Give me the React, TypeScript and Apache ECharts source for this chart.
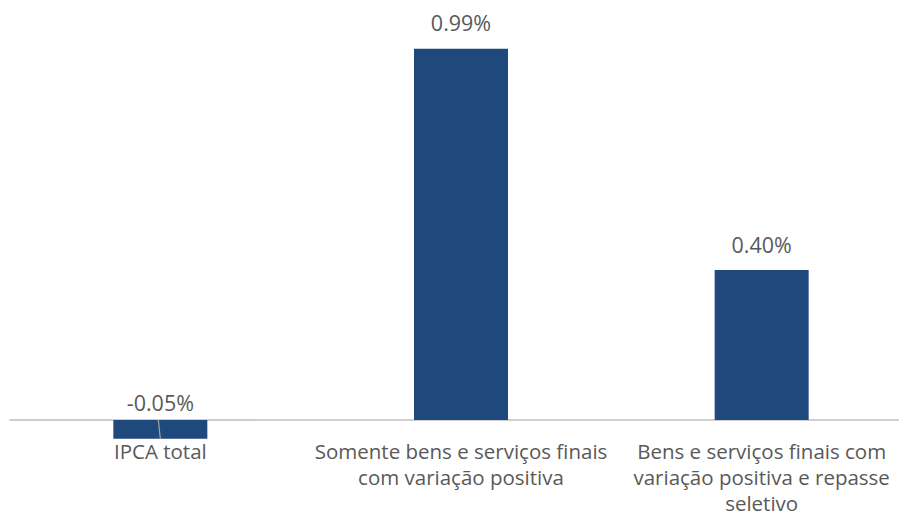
import React, { useEffect, useRef } from "react";
import * as echarts from "echarts";

const categories = [
  "IPCA total",
  "Somente bens e serviços finais\ncom variação positiva",
  "Bens e serviços finais com\nvariação positiva e repasse\nseletivo",
];
const values = [-0.05, 0.99, 0.4];

export default function App() {
  const ref = useRef<HTMLDivElement>(null);
  useEffect(() => {
    if (!ref.current) return;
    const chart = echarts.init(ref.current, undefined, { renderer: "svg" });
    const font = "'Open Sans', 'Noto Sans', sans-serif";
    chart.setOption({
      animation: false,
      grid: { left: 10, top: 45, width: 902, height: 375, containLabel: false, outerBoundsMode: "none" },
      xAxis: {
        type: "category",
        data: categories,
        axisTick: { show: false },
        axisLine: { show: true, onZero: true, lineStyle: { color: "#bfbfbf", width: 1.5 } },
        axisLabel: {
          color: "#595959",
          fontFamily: font,
          fontSize: 20.5,
          lineHeight: 26,
          margin: 18,
          interval: 0,
        },
      },
      yAxis: {
        type: "value",
        min: 0,
        max: 1.0,
        show: false,
        splitLine: { show: false },
      },
      series: [
        {
          type: "bar",
          clip: false,
          data: values.map((v) => ({
            value: v,
            label: { distance: v < 0 ? 7 : 15 },
          })),
          barWidth: 94,
          itemStyle: { color: "#1f497d" },
          label: {
            show: true,
            position: "top",
            color: "#595959",
            fontFamily: font,
            fontSize: 21.5,
            formatter: (p: any) => p.value.toFixed(2) + "%",
          },
        },
      ],
    });
    const idx = values.findIndex((v) => v < 0);
    if (idx >= 0) {
      const p0 = chart.convertToPixel({ seriesIndex: 0 }, [idx, 0]) as number[];
      const p1 = chart.convertToPixel({ seriesIndex: 0 }, [idx, values[idx]]) as number[];
      chart.setOption({
        graphic: [
          {
            type: "line",
            shape: { x1: p0[0] - 2, y1: p0[1], x2: p1[0], y2: p1[1] },
            style: { stroke: "#a6a6a6", lineWidth: 1.2 },
            z: 100,
          },
        ],
      });
    }
    return () => chart.dispose();
  }, []);
  return <div ref={ref} style={{ width: 899, height: 517, position: "absolute", left: 0, top: 0, background: "#fff" }} />;
}
